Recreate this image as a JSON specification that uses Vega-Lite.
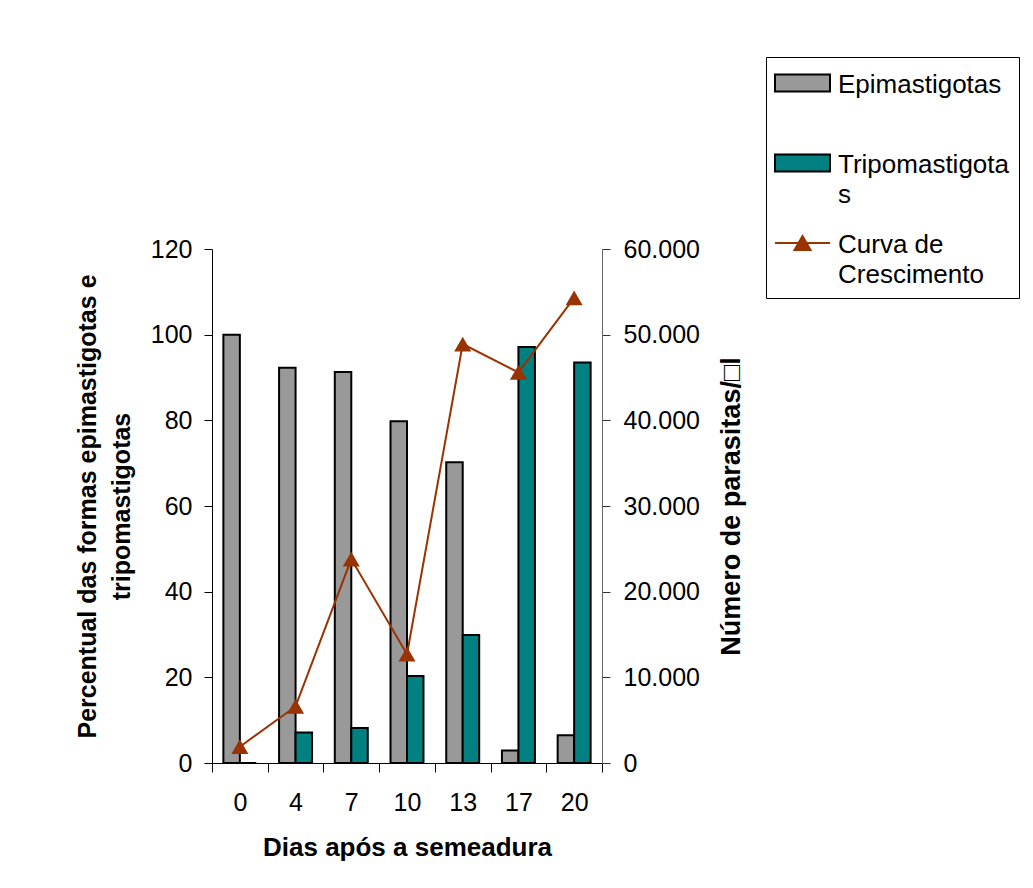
{
  "$schema": "https://vega.github.io/schema/vega-lite/v6.json",
  "autosize": "none",
  "padding": {"left": 212, "top": 249, "right": 431, "bottom": 125},
  "width": 390,
  "height": 514,
  "background": "white",
  "config": {
    "font": "Liberation Sans",
    "view": {"stroke": null},
    "axis": {"labelFont": "Liberation Sans", "titleFont": "Liberation Sans", "labelColor": "black", "titleColor": "black", "grid": false}
  },
  "data": {
    "values": [
      {"dia": "0", "serie": "Epimastigotas", "valor": 100},
      {"dia": "4", "serie": "Epimastigotas", "valor": 92.3},
      {"dia": "7", "serie": "Epimastigotas", "valor": 91.3},
      {"dia": "10", "serie": "Epimastigotas", "valor": 79.8},
      {"dia": "13", "serie": "Epimastigotas", "valor": 70.2},
      {"dia": "17", "serie": "Epimastigotas", "valor": 2.9},
      {"dia": "20", "serie": "Epimastigotas", "valor": 6.5},
      {"dia": "0", "serie": "Tripomastigotas", "valor": 0},
      {"dia": "4", "serie": "Tripomastigotas", "valor": 7.1},
      {"dia": "7", "serie": "Tripomastigotas", "valor": 8.2},
      {"dia": "10", "serie": "Tripomastigotas", "valor": 20.3},
      {"dia": "13", "serie": "Tripomastigotas", "valor": 29.9},
      {"dia": "17", "serie": "Tripomastigotas", "valor": 97.1},
      {"dia": "20", "serie": "Tripomastigotas", "valor": 93.5},
      {"dia": "0", "serie": "Curva de Crescimento", "valor": 1900},
      {"dia": "4", "serie": "Curva de Crescimento", "valor": 6600},
      {"dia": "7", "serie": "Curva de Crescimento", "valor": 23800},
      {"dia": "10", "serie": "Curva de Crescimento", "valor": 12700},
      {"dia": "13", "serie": "Curva de Crescimento", "valor": 48900},
      {"dia": "17", "serie": "Curva de Crescimento", "valor": 45600},
      {"dia": "20", "serie": "Curva de Crescimento", "valor": 54300}
    ]
  },
  "encoding": {
    "x": {
      "field": "dia",
      "type": "nominal",
      "sort": ["0", "4", "7", "10", "13", "17", "20"],
      "scale": {"paddingInner": 0, "paddingOuter": 0},
      "axis": {
        "title": "Dias após a semeadura",
        "titleFontSize": 26,
        "titleFontWeight": "bold",
        "titlePadding": 19,
        "labelAngle": 0,
        "labelFontSize": 25,
        "labelPadding": 18,
        "tickSize": 9,
        "tickBand": "extent",
        "domainColor": "black",
        "tickColor": "black",
        "domainWidth": 1,
        "tickWidth": 1
      }
    }
  },
  "layer": [
    {
      "transform": [{"filter": "datum.serie !== 'Curva de Crescimento'"}],
      "mark": {"type": "bar", "stroke": "black", "strokeWidth": 2},
      "encoding": {
        "y": {
          "field": "valor",
          "type": "quantitative",
          "scale": {"domain": [0, 120], "nice": false},
          "axis": {
            "values": [0, 20, 40, 60, 80, 100, 120],
            "title": ["Percentual das formas epimastigotas e", "tripomastigotas"],
            "titleFontSize": 25,
            "titleFontWeight": "bold",
            "titleLineHeight": 34,
            "titlePadding": 16,
            "labelFontSize": 25,
            "labelPadding": 12,
            "tickSize": 8,
            "domainColor": "black",
            "tickColor": "black"
          }
        },
        "xOffset": {
          "field": "serie",
          "type": "nominal",
          "sort": ["Epimastigotas", "Tripomastigotas"],
          "scale": {"paddingInner": 0, "paddingOuter": 0.69}
        },
        "color": {
          "field": "serie",
          "type": "nominal",
          "scale": {
            "domain": ["Epimastigotas", "Tripomastigotas", "Curva de Crescimento"],
            "range": ["#999999", "#008080", "#993300"]
          },
          "legend": {
            "orient": "none",
            "legendX": 554,
            "legendY": -192,
            "title": " ",
            "titleFontSize": 1,
            "titlePadding": 2,
            "padding": 10,
            "strokeColor": "black",
            "fillColor": "white",
            "symbolSize": 400,
            "symbolStrokeWidth": 2,
            "labelFontSize": 26,
            "labelColor": "black",
            "labelOffset": 36,
            "labelBaseline": "top",
            "labelLimit": 300,
            "rowPadding": 22,
            "labelExpr": "datum.label === 'Tripomastigotas' ? ['Tripomastigota', 's'] : datum.label === 'Curva de Crescimento' ? ['Curva de', 'Crescimento'] : [datum.label, ' ']",
            "encoding": {
              "symbols": {
                "shape": {
                  "condition": {"test": "datum.value === 'Curva de Crescimento'", "value": "M-1.4,0H4.1M0.55,0.7L1.35,-0.7L2.15,0.7Z"},
                  "value": "M-1.4,-0.85H4.1V0.85H-1.4Z"
                },
                "stroke": {
                  "condition": {"test": "datum.value === 'Curva de Crescimento'", "value": "#993300"},
                  "value": "black"
                },
                "strokeWidth": {"value": 2},
                "opacity": {"value": 1}
              },
              "labels": {
                "lineHeight": {"value": 29.5},
                "dy": {"value": -11}
              }
            }
          }
        }
      }
    },
    {
      "transform": [{"filter": "datum.serie === 'Curva de Crescimento'"}],
      "encoding": {
        "y": {
          "field": "valor",
          "type": "quantitative",
          "scale": {"domain": [0, 60000], "nice": false},
          "axis": {
            "orient": "right",
            "values": [0, 10000, 20000, 30000, 40000, 50000, 60000],
            "labelExpr": "replace(format(datum.value, ','), ',', '.')",
            "title": "Número de parasitas/□l",
            "titleAngle": 270,
            "titleFontSize": 27,
            "titleFontWeight": "bold",
            "titlePadding": 46,
            "labelFontSize": 25,
            "labelPadding": 13,
            "tickSize": 8,
            "domainColor": "#666666",
            "tickColor": "#333333"
          }
        }
      },
      "layer": [
        {"mark": {"type": "line", "color": "#993300", "strokeWidth": 2}},
        {"mark": {"type": "point", "shape": "triangle-up", "filled": true, "size": 290, "color": "#993300", "opacity": 1}}
      ]
    }
  ],
  "resolve": {"scale": {"y": "independent"}}
}
